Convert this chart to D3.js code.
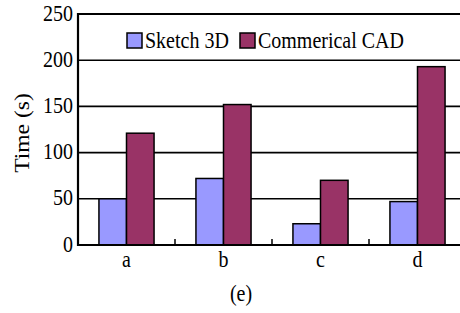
<!DOCTYPE html>
<html>
<head>
<meta charset="utf-8">
<script src="https://cdn.jsdelivr.net/npm/d3@7"></script>
<style>
  body { margin: 0; background: #fff; }
  svg { display: block; font-family: "Liberation Serif", "Times New Roman", serif; }
</style>
</head>
<body>
<svg id="chart" width="460" height="313"></svg>
<script>
// data
const categories = ["a", "b", "c", "d"];
const seriesNames = ["Sketch 3D", "Commerical CAD"];
const sketch3d = [50, 72, 23, 47];
const commercialCad = [121, 152, 70, 193];
const yTicks = [0, 50, 100, 150, 200, 250];

const colors = ["#9999ff", "#993366"];
const values = [sketch3d, commercialCad];
const stretch = 1.18; // glyphs look taller than wide in the source

let svg = d3.select("#chart");
let plotLeft = 78, plotRight = 466, plotTop = 14, plotBottom = 245;

// category scale, then series inside each category
let xScale = d3.scaleBand().domain(categories).range([plotLeft, plotRight]).padding(0);
let xInner = d3.scaleBand().domain(seriesNames)
  .range([0, xScale.bandwidth()]).paddingInner(0).paddingOuter(0.76);
let yScale = d3.scaleLinear().domain([0, 250]).range([plotBottom, plotTop]);

// horizontal grid lines
svg.append("g")
  .selectAll("line")
  .data(yTicks.filter(d => d > 0))
  .enter()
  .append("line")
  .attr("x1", plotLeft - 1)
  .attr("x2", plotRight)
  .attr("y1", d => yScale(d))
  .attr("y2", d => yScale(d))
  .attr("stroke", "#000")
  .attr("stroke-width", d => d === 250 ? 2.2 : 1.6);

// bars
categories.forEach(function (cat, i) {
  svg.append("g")
    .attr("transform", `translate(${xScale(cat)},0)`)
    .selectAll("rect")
    .data(seriesNames)
    .enter()
    .append("rect")
    .attr("x", d => xInner(d))
    .attr("y", (d, j) => yScale(values[j][i]))
    .attr("width", xInner.bandwidth())
    .attr("height", (d, j) => yScale(0) - yScale(values[j][i]))
    .attr("fill", (d, j) => colors[j])
    .attr("stroke", "#000")
    .attr("stroke-width", 1.5);
});

// y axis line and labels
svg.append("line")
  .attr("x1", plotLeft).attr("x2", plotLeft)
  .attr("y1", plotTop - 1).attr("y2", plotBottom + 1)
  .attr("stroke", "#000").attr("stroke-width", 2.2);

svg.append("g")
  .selectAll("text")
  .data(yTicks)
  .enter()
  .append("text")
  .attr("transform", d => `translate(73,${yScale(d) + 6.5}) scale(1,${stretch})`)
  .attr("text-anchor", "end")
  .style("font-size", "20px")
  .text(d => d);

// x axis line with small ticks between the groups
svg.append("line")
  .attr("x1", plotLeft - 1).attr("x2", plotRight)
  .attr("y1", plotBottom).attr("y2", plotBottom)
  .attr("stroke", "#000").attr("stroke-width", 2.2);

svg.append("g")
  .selectAll("line")
  .data(categories.slice(1))
  .enter()
  .append("line")
  .attr("x1", d => xScale(d)).attr("x2", d => xScale(d))
  .attr("y1", plotBottom).attr("y2", plotBottom - 6)
  .attr("stroke", "#000").attr("stroke-width", 1.5);

svg.append("g")
  .selectAll("text")
  .data(categories)
  .enter()
  .append("text")
  .attr("transform", d => `translate(${xScale(d) + xScale.bandwidth() / 2},267) scale(1,${stretch})`)
  .attr("text-anchor", "middle")
  .style("font-size", "20px")
  .text(d => d);

// axis title and caption
svg.append("text")
  .attr("transform", `translate(29,133) scale(1,${stretch}) rotate(-90)`)
  .attr("text-anchor", "middle")
  .style("font-size", "20px")
  .text("Time (s)");

svg.append("text")
  .attr("transform", `translate(241,301) scale(1,${stretch})`)
  .attr("text-anchor", "middle")
  .style("font-size", "20px")
  .text("(e)");

// legend
let legendX = [127, 240];
let legend = svg.append("g")
  .selectAll("g")
  .data(seriesNames)
  .enter()
  .append("g")
  .attr("transform", (d, i) => `translate(${legendX[i]},33)`);

legend.append("rect")
  .attr("width", 15).attr("height", 15)
  .attr("fill", (d, i) => colors[i])
  .attr("stroke", "#000").attr("stroke-width", 1.5);

legend.append("text")
  .attr("transform", `translate(18,14.5) scale(1,${stretch})`)
  .style("font-size", "20px")
  .text(d => d);
</script>
</body>
</html>
